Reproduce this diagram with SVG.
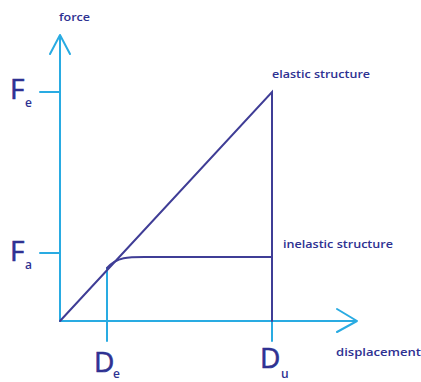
<svg xmlns="http://www.w3.org/2000/svg" width="421" height="382" viewBox="0 0 421 382">
<style>
.ax{stroke:#29abe2;stroke-width:2;fill:none;stroke-linecap:round;stroke-linejoin:round}
.cv{stroke:#3f3d96;stroke-width:2;fill:none;stroke-linecap:round}
.lbl{font-family:"Open Sans","Liberation Sans",sans-serif;fill:#2e3192;font-size:11px;font-weight:600}
.big{font-family:"Open Sans","Liberation Sans",sans-serif;fill:#2e3192;font-size:28px;stroke:#2e3192;stroke-width:0.6}
.sub{font-family:"Open Sans","Liberation Sans",sans-serif;fill:#2e3192;font-size:12px;font-weight:600}
</style>
<rect width="421" height="382" fill="#ffffff"/>
<g id="connectors">
<path class="ax" d="M60,321 V35 M50,54 L60,35 L70,54"/>
<path class="ax" d="M60,321 H357 M337,309 L357,321 L337,332"/>
<path class="ax" d="M40,92 H60 M40,253 H60"/>
<path class="ax" d="M107,268 V341 M272,321 V341"/>
<path class="cv" d="M60,321 L272,92 V321"/>
<path class="cv" d="M107,268 C118,256 130,257 150,257 H272"/>
</g>
<g id="force"><text class="lbl" x="59" y="21" textLength="31" lengthAdjust="spacingAndGlyphs">force</text></g>
<g id="displacement"><text class="lbl" x="336" y="356" textLength="85" lengthAdjust="spacingAndGlyphs">displacement</text></g>
<g id="elastic"><text class="lbl" x="272" y="78" textLength="98" lengthAdjust="spacingAndGlyphs">elastic structure</text></g>
<g id="inelastic"><text class="lbl" x="283" y="248" textLength="110" lengthAdjust="spacingAndGlyphs">inelastic structure</text></g>
<g id="Fe"><text class="big" x="10" y="99">F</text><text class="sub" x="25" y="107">e</text></g>
<g id="Fa"><text class="big" x="10" y="261">F</text><text class="sub" x="25" y="269">a</text></g>
<g id="De"><text class="big" x="94" y="372">D</text><text class="sub" x="113" y="378">e</text></g>
<g id="Du"><text class="big" x="260" y="368">D</text><text class="sub" x="281" y="378">u</text></g>
</svg>
